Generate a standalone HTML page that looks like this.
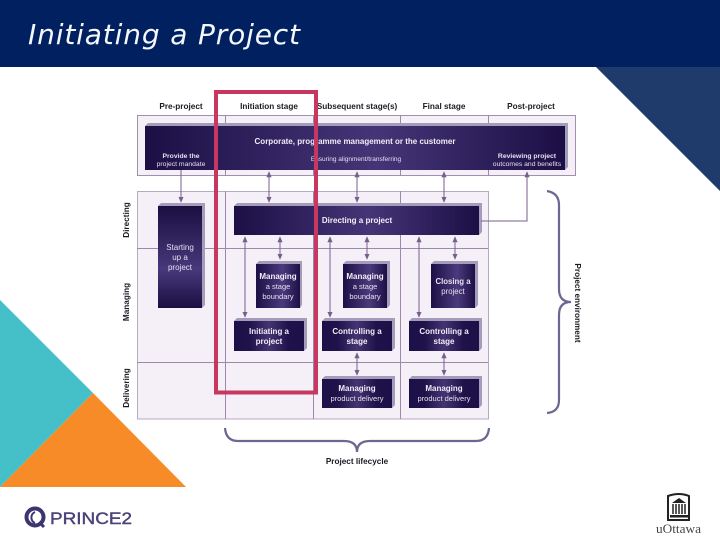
<!DOCTYPE html>
<html><head><meta charset="utf-8"><style>
html,body{margin:0;padding:0;background:#fff;width:720px;height:540px;overflow:hidden}
svg{display:block;font-family:"Liberation Sans",sans-serif}
.h{font-size:8.200px;font-weight:bold;fill:#1a1a22;text-anchor:middle}
.t{font-size:8px;fill:#f1edf6;text-anchor:middle;font-weight:bold}
.s{font-size:7.500px;fill:#e6e0ee;text-anchor:middle}
.a{stroke:#765f8d;stroke-width:1;fill:none;marker-start:url(#m);marker-end:url(#m)}
.o{stroke:#765f8d;stroke-width:1;fill:none}
.c{fill:#a49db9;stroke:none}
.g{stroke:#9d88aa;stroke-width:1;fill:none}
</style></head><body>
<svg width="720" height="540" viewBox="0 0 720 540" xmlns="http://www.w3.org/2000/svg">
<defs>
<marker id="m" viewBox="0 0 8 8" refX="7" refY="4" markerWidth="6" markerHeight="6" orient="auto-start-reverse" markerUnits="userSpaceOnUse"><path d="M0 0.5L8 4L0 7.5Z" fill="#765f8d"/></marker>
<linearGradient id="d" x1="0" x2="1" y1="0" y2="0"><stop offset="0" stop-color="#1c0f45"/><stop offset=".55" stop-color="#453577"/><stop offset="1" stop-color="#1c0f45"/></linearGradient>
<linearGradient id="w" x1="0" x2="1" y1="0" y2="0"><stop offset="0" stop-color="#1d1048"/><stop offset=".22" stop-color="#1f124b"/><stop offset=".5" stop-color="#443472"/><stop offset=".78" stop-color="#1f124b"/><stop offset="1" stop-color="#1d1048"/></linearGradient>
<linearGradient id="v" x1="0" x2="0" y1="0" y2="1"><stop offset="0" stop-color="#1a0e42"/><stop offset=".62" stop-color="#47397a"/><stop offset="1" stop-color="#1a0e42"/></linearGradient>
<linearGradient id="r" x1="0" x2="1" y1="0" y2="0"><stop offset="0" stop-color="#1c0f45"/><stop offset=".6" stop-color="#4b3a7d"/><stop offset="1" stop-color="#1c0f45"/></linearGradient>
</defs>
<rect width="720" height="540" fill="#fff"/>
<rect width="720" height="67" fill="#002060"/>
<polygon points="596,67 720,67 720,191" fill="#1f3b6b"/>
<polygon points="0,300 93,393 0,487" fill="#45c0c9"/>
<polygon points="93,393 186,487 0,487" fill="#f68b28"/>
<text x="28" y="44" font-family="'DejaVu Sans',sans-serif" font-style="italic" font-size="28" fill="#f4f7fb" textLength="272" lengthAdjust="spacing">Initiating a Project</text>

<rect x="137.500" y="115.500" width="438" height="60" fill="#f5f0f8" stroke="#a28fae"/>
<rect x="137.500" y="191.500" width="351" height="227.500" fill="#f5f0f8" stroke="#b8a9c2"/>
<path class="g" d="M225.500 115V176M313.500 115V176M400.500 115V176M488.500 115V176M225.500 191V419M313.500 191V419M400.500 191V419M137 248.500H488M137 362.500H488"/>

<text class="h" x="181" y="109">Pre-project</text>
<text class="h" x="269" y="109">Initiation stage</text>
<text class="h" x="357" y="109">Subsequent stage(s)</text>
<text class="h" x="444" y="109">Final stage</text>
<text class="h" x="531" y="109">Post-project</text>

<polygon class="c" points="145,126 148,123 568,123 568,167 565,170 565,126"/>
<rect x="145" y="126" width="420" height="44" fill="url(#d)"/>
<text class="t" x="355" y="144">Corporate, programme management or the customer</text>
<text class="s" x="356" y="161" style="font-size:6.500px">Ensuring alignment/transferring</text>
<text class="s" x="181" y="158" style="font-size:6.800px;font-weight:bold">Provide the</text>
<text class="s" x="181" y="166" style="font-size:6.800px">project mandate</text>
<text class="s" x="527" y="158" style="font-size:6.800px;font-weight:bold">Reviewing project</text>
<text class="s" x="527" y="166" style="font-size:6.800px">outcomes and benefits</text>

<polygon class="c" points="234,206 237,203 482,203 482,232 479,235 479,206"/>
<rect x="234" y="206" width="245" height="29" fill="url(#d)"/>
<text class="t" x="357" y="223">Directing a project</text>

<polygon class="c" points="158,206 161,203 205,203 205,305 202,308 202,206"/>
<rect x="158" y="206" width="44" height="102" fill="url(#v)"/>
<text class="s" x="180" y="250" style="font-size:8px">Starting</text>
<text class="s" x="180" y="260" style="font-size:8px">up a</text>
<text class="s" x="180" y="270" style="font-size:8px">project</text>

<polygon class="c" points="256,264 259,261 302,261 302,305 300,308 300,264"/>
<rect x="256" y="264" width="44" height="44" fill="url(#r)"/>
<text class="t" x="278" y="279">Managing</text><text class="s" x="278" y="289">a stage</text><text class="s" x="278" y="299">boundary</text>
<polygon class="c" points="343,264 346,261 390,261 390,305 387,308 387,264"/>
<rect x="343" y="264" width="44" height="44" fill="url(#r)"/>
<text class="t" x="365" y="279">Managing</text><text class="s" x="365" y="289">a stage</text><text class="s" x="365" y="299">boundary</text>
<polygon class="c" points="431,264 434,261 478,261 478,305 475,308 475,264"/>
<rect x="431" y="264" width="44" height="44" fill="url(#r)"/>
<text class="s" x="453" y="284" style="font-size:7.800px;font-weight:bold">Closing a</text><text class="s" x="453" y="294" style="font-size:7.800px">project</text>

<polygon class="c" points="234,321 237,318 307,318 307,348 304,351 304,321"/>
<rect x="234" y="321" width="70" height="30" fill="url(#w)"/>
<text class="t" x="269" y="334">Initiating a</text><text class="t" x="269" y="344">project</text>
<polygon class="c" points="322,321 325,318 395,318 395,348 392,351 392,321"/>
<rect x="322" y="321" width="70" height="30" fill="url(#w)"/>
<text class="t" x="357" y="334">Controlling a</text><text class="t" x="357" y="344">stage</text>
<polygon class="c" points="409,321 412,318 482,318 482,348 479,351 479,321"/>
<rect x="409" y="321" width="70" height="30" fill="url(#w)"/>
<text class="t" x="444" y="334">Controlling a</text><text class="t" x="444" y="344">stage</text>

<polygon class="c" points="322,379 325,376 395,376 395,405 392,408 392,379"/>
<rect x="322" y="379" width="70" height="29" fill="url(#w)"/>
<text class="t" x="357" y="391">Managing</text><text class="s" x="357" y="401">product delivery</text>
<polygon class="c" points="409,379 412,376 482,376 482,405 479,408 479,379"/>
<rect x="409" y="379" width="70" height="29" fill="url(#w)"/>
<text class="t" x="444" y="391">Managing</text><text class="s" x="444" y="401">product delivery</text>

<path class="o" d="M181 170V202" style="marker-end:url(#m)"/>
<path class="a" d="M269 172V202"/>
<path class="a" d="M357 172V202"/>
<path class="a" d="M444 172V202"/>
<path class="o" d="M527 172V221H481" style="marker-start:url(#m)"/>
<path class="a" d="M245 237V317"/>
<path class="a" d="M280 237V259"/>
<path class="a" d="M330 237V317"/>
<path class="a" d="M367 237V259"/>
<path class="a" d="M419 237V317"/>
<path class="a" d="M455 237V259"/>
<path class="a" d="M357 353V375"/>
<path class="a" d="M444 353V375"/>

<text class="h" transform="translate(129,220) rotate(-90)">Directing</text>
<text class="h" transform="translate(129,302) rotate(-90)">Managing</text>
<text class="h" transform="translate(129,388) rotate(-90)">Delivering</text>
<text class="h" transform="translate(575,303) rotate(90)">Project environment</text>
<text class="h" x="357" y="464">Project lifecycle</text>

<path d="M547 191Q559 193 559 205V289Q559 302 571 302Q559 302 559 315V400Q559 412 547 413" fill="none" stroke="#6d6690" stroke-width="2.200"/>
<path d="M225 428Q226 441 238 441H344Q357 441 357 452Q357 441 370 441H476Q488 441 489 428" fill="none" stroke="#6d6690" stroke-width="2.200"/>

<rect x="216" y="92" width="100" height="300.500" fill="none" stroke="#c8375f" stroke-width="4"/>

<circle cx="35" cy="517" r="8.500" fill="none" stroke="#3d3570" stroke-width="4"/>
<path d="M35 512a6 6 0 0 0 0 11" fill="none" stroke="#3d3570" stroke-width="2"/>
<path d="M39 522l5 5" stroke="#3d3570" stroke-width="3"/>
<text x="50" y="524" font-size="16.500" fill="#4a4279" stroke="#4a4279" stroke-width=".4" textLength="82" lengthAdjust="spacingAndGlyphs">PRINCE2</text>

<path d="M668 496Q679 492 689 496V520H668Z" fill="#fff" stroke="#222" stroke-width="2"/>
<path d="M672 503L679 498L686 503Z" fill="#222"/>
<path d="M673 504V514M676 504V514M679 504V514M682 504V514M685 504V514" stroke="#222" stroke-width="1.500"/>
<rect x="670" y="515" width="18" height="2.500" fill="#222"/>
<text x="656" y="533" font-family="'Liberation Serif',serif" font-size="12.500" fill="#444" textLength="45" lengthAdjust="spacingAndGlyphs">uOttawa</text>
</svg>
</body></html>
